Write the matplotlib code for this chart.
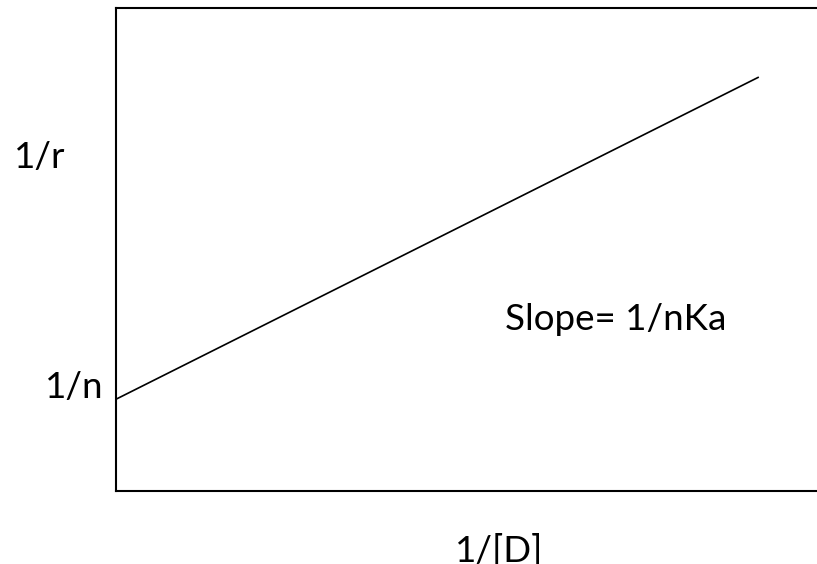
import matplotlib
matplotlib.use("Agg")
import matplotlib.pyplot as plt

# Schematic double-reciprocal plot: 1/r vs 1/[D]
inv_d = [0.0, 9.17]
inv_r = [1.9, 8.57]

x_label = "1/[D]"
y_label = "1/r"
intercept_label = "1/n"
slope_label = "Slope= 1/nKa"

plt.rcParams["font.family"] = ["Lato", "DejaVu Sans"]

fig = plt.figure(figsize=(8.17, 5.64), dpi=100)
ax = fig.add_axes([116 / 817, 73 / 564, 701 / 817, 483 / 564])

ax.plot(inv_d, inv_r, color="black", lw=1.2, solid_capstyle="butt")
ax.set_xlim(0, 10)
ax.set_ylim(0, 10)
ax.set_xticks([])
ax.set_yticks([])
ax.spines["right"].set_visible(False)
for side in ("left", "bottom", "top"):
    ax.spines[side].set_linewidth(1.5)

fs = 26.5
fig.text(40 / 817, 1 - 158 / 564, y_label, fontsize=fs, ha="center", va="center")
fig.text(74 / 817, 1 - 387 / 564, intercept_label, fontsize=fs, ha="center", va="center")
fig.text(616 / 817, 1 - 320 / 564, slope_label, fontsize=fs, ha="center", va="center")
fig.text(499 / 817, 1 - 551 / 564, x_label, fontsize=fs, ha="center", va="center")

fig.savefig("out.png", dpi=100, facecolor="white")
